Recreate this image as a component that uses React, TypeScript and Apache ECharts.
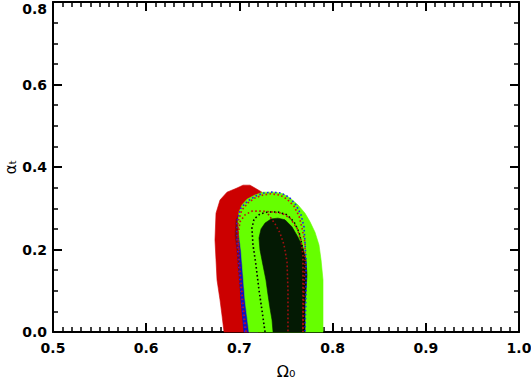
import React, { useEffect, useRef } from 'react';
import * as echarts from 'echarts';

type Pt = [number, number];

const xRange = { min: 0.5, max: 1.0, interval: 0.1 };
const yRange = { min: 0.0, max: 0.8, interval: 0.2 };
const xName = 'Ω₀';
const yName = 'αₜ';

// filled contour regions (Omega_0, alpha_t)
const redOuter: Pt[] = [
  [0.6835, 0], [0.6813, 0.041], [0.6792, 0.078], [0.676, 0.126], [0.6749, 0.175],
  [0.6738, 0.223], [0.6749, 0.288], [0.6792, 0.32], [0.6867, 0.339], [0.6974, 0.349],
  [0.7039, 0.356], [0.7114, 0.356], [0.7167, 0.349], [0.7242, 0.339], [0.7275, 0.247],
  [0.7167, 0.126], [0.7114, 0],
];
const redInner: Pt[] = [
  [0.7049, 0], [0.7017, 0.078], [0.6996, 0.138], [0.6974, 0.199], [0.6953, 0.235],
  [0.6964, 0.272], [0.7017, 0.293], [0.72, 0.305], [0.7242, 0],
];
const blueRegion: Pt[] = [
  [0.7049, 0], [0.7017, 0.078], [0.7006, 0.138], [0.6996, 0.199], [0.6985, 0.228],
  [0.7006, 0.252], [0.7114, 0.267], [0.72, 0],
];
const greenRegion: Pt[] = [
  [0.7103, 0], [0.706, 0.078], [0.7039, 0.138], [0.7017, 0.199], [0.6996, 0.235],
  [0.6985, 0.267], [0.6996, 0.291], [0.7028, 0.308], [0.7082, 0.322], [0.7167, 0.332],
  [0.7253, 0.339], [0.7382, 0.339], [0.7468, 0.335], [0.7543, 0.325], [0.7629, 0.308],
  [0.7704, 0.288], [0.7758, 0.267], [0.7811, 0.242], [0.7854, 0.211], [0.7876, 0.175],
  [0.7897, 0.126], [0.7897, 0.065], [0.7897, 0],
];
const blackRegion: Pt[] = [
  [0.7361, 0], [0.735, 0.029], [0.7328, 0.058], [0.7307, 0.09], [0.7285, 0.126],
  [0.7253, 0.162], [0.7221, 0.199], [0.721, 0.228], [0.7232, 0.25], [0.7275, 0.264],
  [0.7339, 0.274], [0.7414, 0.276], [0.7489, 0.272], [0.7564, 0.255], [0.7629, 0.23],
  [0.7682, 0.204], [0.7715, 0.175], [0.7725, 0.138], [0.7715, 0.102], [0.7704, 0.065],
  [0.7704, 0.029], [0.7704, 0],
];

// dotted contour lines
const redDotOuter: Pt[] = [
  [0.7071, 0], [0.7039, 0.065], [0.7006, 0.15], [0.6985, 0.223], [0.6985, 0.267],
  [0.7028, 0.296], [0.7092, 0.313], [0.7167, 0.325], [0.7253, 0.332], [0.7339, 0.335],
  [0.7436, 0.332], [0.7511, 0.322], [0.7586, 0.305], [0.764, 0.281], [0.7672, 0.252],
  [0.7704, 0.216], [0.7704, 0.175], [0.7693, 0.102], [0.7682, 0],
];
const blueDotOuter: Pt[] = [
  [0.706, 0], [0.7028, 0.065], [0.6996, 0.15], [0.6974, 0.223], [0.6974, 0.269],
  [0.7017, 0.301], [0.7092, 0.318], [0.7178, 0.33], [0.7264, 0.337], [0.735, 0.339],
  [0.7446, 0.337], [0.7532, 0.327], [0.7607, 0.308], [0.7661, 0.284], [0.7693, 0.255],
  [0.7704, 0.216], [0.7715, 0.175], [0.7715, 0.102], [0.7704, 0],
];
const blackDotInner: Pt[] = [
  [0.7275, 0], [0.7242, 0.053], [0.721, 0.102], [0.7178, 0.162], [0.7146, 0.211],
  [0.7135, 0.252], [0.7157, 0.274], [0.7221, 0.286], [0.7307, 0.291], [0.7414, 0.291],
  [0.7511, 0.284], [0.7586, 0.267], [0.764, 0.242], [0.7672, 0.211], [0.7693, 0.17],
  [0.7693, 0],
];
const redDotInner: Pt[] = [
  [0.6996, 0.199], [0.6985, 0.235], [0.7006, 0.267], [0.706, 0.284], [0.7135, 0.293],
  [0.7242, 0.293], [0.735, 0.291], [0.7457, 0.288], [0.7543, 0.276], [0.7618, 0.252],
  [0.7661, 0.223], [0.7682, 0.187], [0.7682, 0.102], [0.7682, 0],
];
const redDotCore: Pt[] = [
  [0.7307, 0.286], [0.7382, 0.262], [0.7436, 0.24], [0.7479, 0.211], [0.7511, 0.17],
  [0.7521, 0.102], [0.7521, 0],
];

const FONT = 'DejaVu Sans';

export default function App() {
  const ref = useRef<HTMLDivElement>(null);
  useEffect(() => {
    document.body.style.margin = '0';
    const chart = echarts.init(ref.current!, null, { renderer: 'svg' });

    const poly = (name: string, pts: Pt[], color: string, z: number) => ({
      type: 'custom',
      name,
      z,
      silent: true,
      data: [[pts[0][0], pts[0][1]]],
      renderItem: (_p: any, api: any) => ({
        type: 'polygon',
        shape: { points: pts.map((p) => api.coord(p)) },
        style: { fill: color, stroke: color, lineWidth: 0.6 },
      }),
    });
    const dots = (name: string, pts: Pt[], color: string, z: number) => ({
      type: 'line',
      name,
      z,
      silent: true,
      data: pts,
      symbol: 'none',
      lineStyle: { color, width: 1.6, type: [1.6, 2.4] },
    });

    const axisCommon = {
      type: 'value' as const,
      axisLine: { show: true, onZero: false, lineStyle: { color: '#000', width: 2 } },
      axisTick: { show: true, inside: true, length: 9, lineStyle: { color: '#000', width: 2 } },
      splitLine: { show: false },
    };
    const labelStyle = {
      color: '#000',
      fontSize: 14,
      fontFamily: FONT,
      fontWeight: 'bold' as const,
      formatter: (v: number) => v.toFixed(1),
    };

    chart.setOption({
      animation: false,
      grid: { left: 53, right: 12, top: 2, bottom: 50, containLabel: false, outerBoundsMode: 'none' },
      xAxis: [
        {
          ...axisCommon,
          ...xRange,
          position: 'bottom',
          minorTick: { show: true, splitNumber: 10, length: 5, lineStyle: { color: '#000', width: 1.5 } },
          axisLabel: { ...labelStyle, margin: 9 },
          name: xName,
          nameLocation: 'middle',
          nameGap: 31,
          nameMoveOverlap: false,
          nameTextStyle: { color: '#000', fontSize: 16, fontFamily: FONT },
        },
        {
          ...axisCommon,
          ...xRange,
          position: 'top',
          minorTick: { show: true, splitNumber: 10, length: 5, lineStyle: { color: '#000', width: 1.5 } },
          axisLabel: { show: false },
        },
      ],
      yAxis: [
        {
          ...axisCommon,
          ...yRange,
          position: 'left',
          minorTick: { show: true, splitNumber: 4, length: 5, lineStyle: { color: '#000', width: 1.5 } },
          axisLabel: { ...labelStyle, margin: 6, verticalAlignMaxLabel: 'top' },
          name: yName,
          nameLocation: 'middle',
          nameGap: 35,
          nameMoveOverlap: false,
          nameTextStyle: { color: '#000', fontSize: 15, fontFamily: FONT },
        },
        {
          ...axisCommon,
          ...yRange,
          position: 'right',
          minorTick: { show: true, splitNumber: 4, length: 5, lineStyle: { color: '#000', width: 1.5 } },
          axisLabel: { show: false },
        },
      ],
      series: [
        poly('red95', redOuter, '#cc0000', 1),
        poly('red68', redInner, '#8a0505', 2),
        poly('blue', blueRegion, '#1010c0', 3),
        poly('green', greenRegion, '#66ff00', 4),
        poly('black', blackRegion, '#041a04', 5),
        dots('blueDotOuter', blueDotOuter, '#1a1aff', 6),
        dots('redDotOuter', redDotOuter, '#d01010', 7),
        dots('blackDotInner', blackDotInner, '#000000', 8),
        dots('redDotInner', redDotInner, '#c01010', 9),
        dots('redDotCore', redDotCore, '#a01010', 10),
      ],
    });
    return () => chart.dispose();
  }, []);
  return <div ref={ref} style={{ width: 531, height: 382 }} />;
}
